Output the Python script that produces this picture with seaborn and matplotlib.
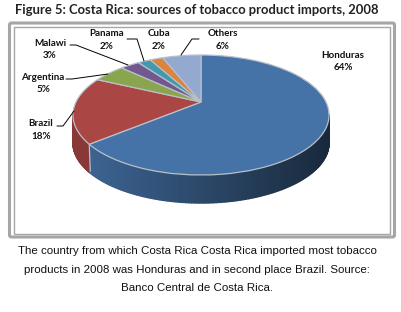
import numpy as np
import matplotlib
matplotlib.use("Agg")
import matplotlib.pyplot as plt
from matplotlib.transforms import Transform
from matplotlib.patches import FancyBboxPatch, Rectangle
from matplotlib.collections import PolyCollection
from matplotlib.colors import to_rgb
import seaborn as sns

categories = ["Honduras", "Brazil", "Argentina", "Malawi", "Panama", "Cuba", "Others"]
shares = [64, 18, 5, 3, 2, 2, 6]
pie_colors = ["#4572A7", "#AA4643", "#89A54E", "#71588F", "#4198AF", "#DB843D", "#93A9CF"]
title = "Figure 5: Costa Rica: sources of tobacco product imports, 2008"
caption = ["The country from which Costa Rica Costa Rica imported most tobacco",
           "products in 2008 was Honduras and in second place Brazil. Source:",
           "Banco Central de Costa Rica."]

sns.set_theme(style="white")
W, H = 401, 312
fig = plt.figure(figsize=(W / 100, H / 100), dpi=100, facecolor="white")
ax = fig.add_axes([0, 0, 1, 1])
palette = sns.color_palette(pie_colors)

# perspective tilt of the unit disc into picture pixels
CX, CY, D, A, C, DEPTH = 201.0, 102.0, 125.0, -35.08, 0.2167, 28.0


def tilt(xy):
    x, y = np.asarray(xy)[:, 0], np.asarray(xy)[:, 1]
    den = 1 + C * y
    return np.column_stack([CX + D * x / den, (CY + A * y) / den])


class Tilt(Transform):
    input_dims = output_dims = 2

    def transform_non_affine(self, values):
        return tilt(values)


wedges, _ = ax.pie(shares, colors=palette, startangle=90, counterclock=False,
                   wedgeprops=dict(edgecolor="#B9C0C8", linewidth=0.9))
ax.set_aspect("auto")
ax.set_xlim(0, W)
ax.set_ylim(H, 0)
ax.axis("off")
for w in wedges:
    w.set_transform(Tilt() + ax.transData)
    w.set_zorder(5)

# side wall in strips, shaded from left to right
edges = 90 - np.cumsum([0] + shares) * 3.6
polys, cols = [], []
rim_x, rim_y = [], []
for i, col in enumerate(palette[:2]):
    hi, lo = edges[i], edges[i + 1]
    for t0 in np.arange(lo, hi, 1.0):
        t1 = min(t0 + 1.0, hi)
        s0, s1 = np.sin(np.radians(t0)), np.sin(np.radians(t1))
        if s0 > -0.22 and s1 > -0.22:
            continue
        pts = tilt(np.array([[np.cos(np.radians(t0)), s0], [np.cos(np.radians(t1)), s1]]))
        polys.append([pts[0], pts[1], pts[1] + [0, DEPTH], pts[0] + [0, DEPTH]])
        f = (pts[0, 0] - 73) / 256
        k = 0.88 - 0.52 * min(1, max(0, (f - 0.05) / 0.95)) if i == 0 else 0.8
        cols.append(tuple(c * k for c in to_rgb(col)))
ax.add_collection(PolyCollection(polys, facecolors=cols, edgecolors=cols, linewidths=1.0, zorder=3))

# light seam between the two visible wall sections
seam = tilt(np.array([[np.cos(np.radians(edges[1])), np.sin(np.radians(edges[1]))]]))[0]
ax.plot([seam[0], seam[0] + 1], [seam[1], seam[1] + DEPTH - 1], color="#B9C0C8", lw=0.9, zorder=4)

# frame
ax.add_patch(FancyBboxPatch((9.5, 23), 385, 214, boxstyle="round,pad=0,rounding_size=2",
                            fc="white", ec="#A6A6A6", lw=2.2, zorder=0))
ax.add_patch(Rectangle((13.5, 27), 376, 206.5, fc="white", ec="#A6A6A6", lw=1.0, zorder=1))

# leader lines
leaders = [([66, 72, 108], [79, 79, 74]),
           ([57, 63, 74], [126, 126, 111]),
           ([70, 76, 128], [45, 45, 65]),
           ([127, 137, 144], [39, 39, 61]),
           ([199, 192, 181], [39, 39, 55])]
for xs, ys in leaders:
    ax.plot(xs, ys, color="black", lw=0.7, zorder=6)

# texts
lato = ["Lato", "DejaVu Sans"]
ax.text(197, 10.5, title, family=lato, weight="bold", fontsize=9.33, color="#222222", ha="center", va="center")
labels = {"Honduras": (343, 61.5), "Brazil": (41, 130), "Argentina": (43, 83.5), "Malawi": (50, 49.5),
          "Panama": (107, 40), "Cuba": (159, 40), "Others": (223, 40)}
for name, val in zip(categories, shares):
    x, y = labels[name]
    ax.text(x, y, f"{name}\n{val}%", family=lato, weight="bold", fontsize=7.1, color="#111111",
            ha="center", va="center", linespacing=1.5, zorder=7)
for i, line in enumerate(caption):
    ax.text(197, 251.5 + i * 18.2, line, family=["Liberation Sans", "DejaVu Sans"], fontsize=8.25,
            color="#111111", ha="center", va="center")

fig.savefig("out.png", dpi=100, facecolor="white")
